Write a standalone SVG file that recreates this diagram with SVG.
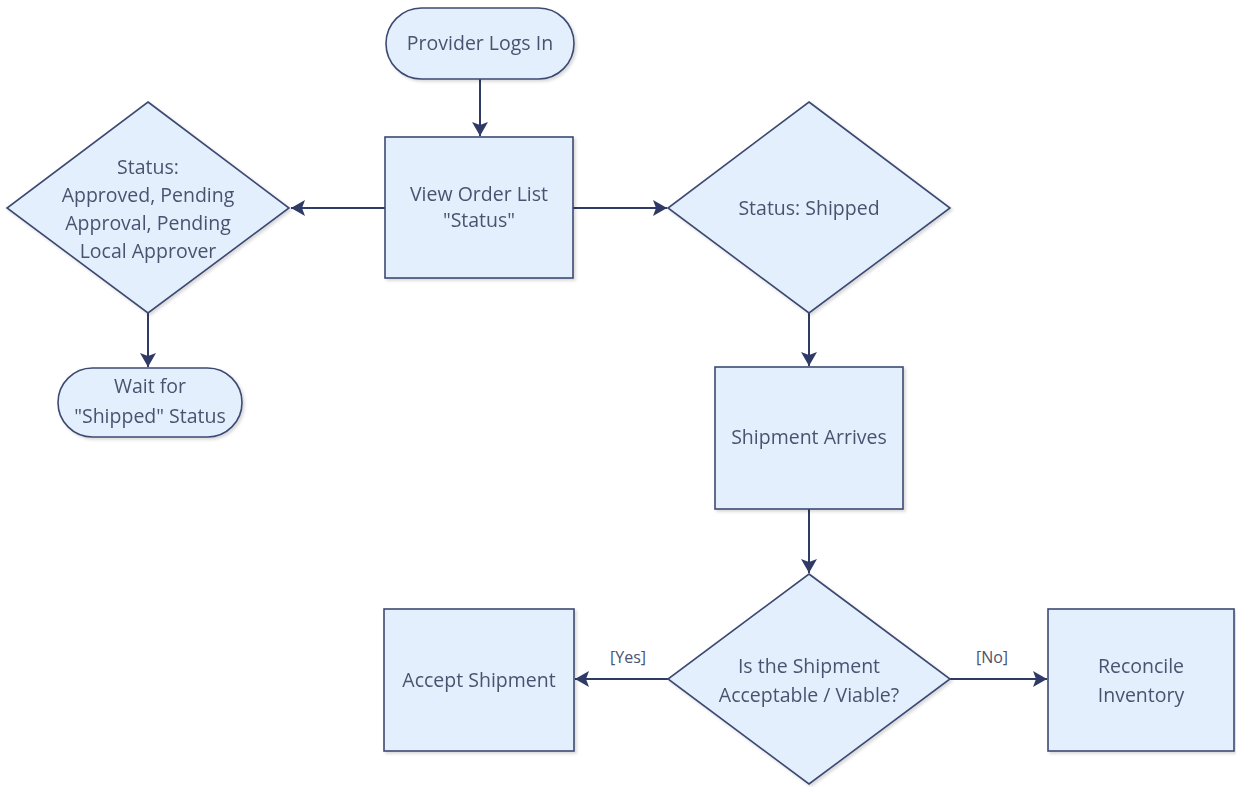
<svg xmlns="http://www.w3.org/2000/svg" width="1236" height="787" viewBox="0 0 1236 787">
<defs>
<style>
.n{fill:#e3effd;stroke:#3c4a72;stroke-width:1.6}
.t{font-family:"Open Sans","Liberation Sans",sans-serif;font-size:19.5px;fill:#4a5370;text-anchor:middle}
.l{font-family:"Open Sans","Liberation Sans",sans-serif;font-size:16px;fill:#4a5370;text-anchor:middle}
.c{fill:none;stroke:#2f3b66;stroke-width:2}
</style>
<marker id="a" viewBox="0 0 14 16" refX="14" refY="8" markerWidth="14" markerHeight="16" markerUnits="userSpaceOnUse" orient="auto">
<path d="M0,0 L14,8 L0,16 L3,8 Z" fill="#2f3b66"/>
</marker>
<filter id="s" x="-10%" y="-10%" width="130%" height="130%">
<feDropShadow dx="2" dy="2" stdDeviation="1.5" flood-color="#000" flood-opacity="0.15"/>
</filter>
</defs>
<rect width="1236" height="787" fill="#fff"/>
<g id="connectors">
<path class="c" d="M480,79 V136" marker-end="url(#a)"/>
<path class="c" d="M385,208 H291" marker-end="url(#a)"/>
<path class="c" d="M573,208 H667" marker-end="url(#a)"/>
<path class="c" d="M148,313 V367" marker-end="url(#a)"/>
<path class="c" d="M809,313 V366" marker-end="url(#a)"/>
<path class="c" d="M809,509 V573" marker-end="url(#a)"/>
<path class="c" d="M668,679 H575" marker-end="url(#a)"/>
<path class="c" d="M950,679 H1047" marker-end="url(#a)"/>
<text class="l" x="628" y="663">[Yes]</text>
<text class="l" x="992" y="663">[No]</text>
</g>
<g id="provider" filter="url(#s)">
<rect class="n" x="386" y="8" width="188" height="71" rx="35.5"/>
<text class="t" x="480" y="50">Provider Logs In</text>
</g>
<g id="vieworder" filter="url(#s)">
<rect class="n" x="385" y="137" width="188" height="141"/>
<text class="t" x="479" y="201">View Order List</text>
<text class="t" x="479" y="227">"Status"</text>
</g>
<g id="statuspending" filter="url(#s)">
<polygon class="n" points="148,102 289,208 148,313 7,208"/>
<text class="t" x="148" y="174">Status:</text>
<text class="t" x="148" y="202">Approved, Pending</text>
<text class="t" x="148" y="230">Approval, Pending</text>
<text class="t" x="148" y="258">Local Approver</text>
</g>
<g id="wait" filter="url(#s)">
<rect class="n" x="58" y="368" width="184" height="69" rx="34.5"/>
<text class="t" x="150" y="393">Wait for</text>
<text class="t" x="150" y="423">"Shipped" Status</text>
</g>
<g id="shipped" filter="url(#s)">
<polygon class="n" points="809,102 950,208 809,313 668,208"/>
<text class="t" x="809" y="215">Status: Shipped</text>
</g>
<g id="arrives" filter="url(#s)">
<rect class="n" x="715" y="367" width="188" height="142"/>
<text class="t" x="809" y="444">Shipment Arrives</text>
</g>
<g id="acceptable" filter="url(#s)">
<polygon class="n" points="809,574 950,679 809,784 668,679"/>
<text class="t" x="809" y="673">Is the Shipment</text>
<text class="t" x="809" y="702">Acceptable / Viable?</text>
</g>
<g id="accept" filter="url(#s)">
<rect class="n" x="384" y="609" width="190" height="142"/>
<text class="t" x="479" y="687">Accept Shipment</text>
</g>
<g id="reconcile" filter="url(#s)">
<rect class="n" x="1048" y="609" width="186" height="142"/>
<text class="t" x="1141" y="673">Reconcile</text>
<text class="t" x="1141" y="702">Inventory</text>
</g>
</svg>
